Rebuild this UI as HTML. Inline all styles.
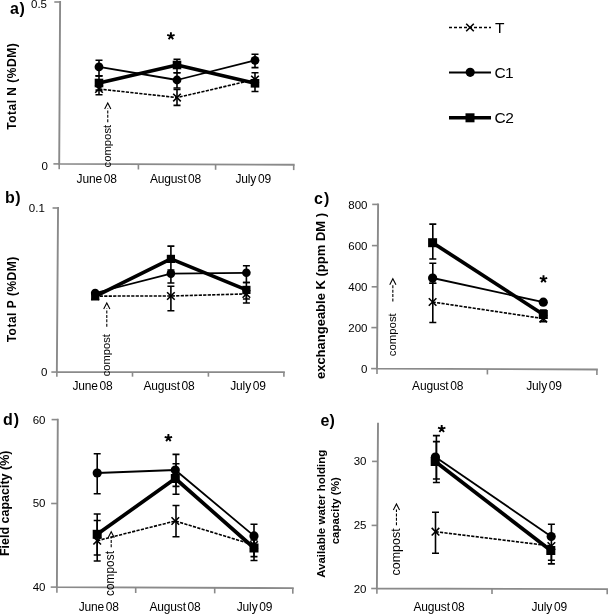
<!DOCTYPE html>
<html><head><meta charset="utf-8"><style>
html,body{margin:0;padding:0;background:#fff;width:608px;height:614px;overflow:hidden}
svg{display:block;filter:grayscale(1)}
text{font-family:"Liberation Sans",sans-serif;fill:#000}
</style></head><body>
<svg width="608" height="614" viewBox="0 0 608 614">
<rect width="608" height="614" fill="#fff"/>
<text x="10" y="13.8" font-size="16" font-weight="700" text-anchor="start" letter-spacing="0.5">a)</text>
<path d="M60.1 2L59.2 163.9L293.7 164.8" stroke="#8a8a8a" stroke-width="1.9" fill="none" stroke-linejoin="miter" stroke-linecap="square"/>
<path d="M54.30 2H60.10" stroke="#8a8a8a" stroke-width="1.61" fill="none"/>
<path d="M53.40 163.9H59.20" stroke="#8a8a8a" stroke-width="1.61" fill="none"/>
<path d="M59.2 163.90V169.20" stroke="#8a8a8a" stroke-width="1.61" fill="none"/>
<path d="M138.4 164.20V169.50" stroke="#8a8a8a" stroke-width="1.61" fill="none"/>
<path d="M215.6 164.50V169.80" stroke="#8a8a8a" stroke-width="1.61" fill="none"/>
<path d="M293.7 164.80V170.10" stroke="#8a8a8a" stroke-width="1.61" fill="none"/>
<text x="47" y="7.9" font-size="11.5" font-weight="400" text-anchor="end" >0.5</text>
<text x="48" y="169.8" font-size="11.5" font-weight="400" text-anchor="end" >0</text>
<text x="96.7" y="183" font-size="12" font-weight="400" text-anchor="middle" letter-spacing="-0.15" word-spacing="-1.5">June 08</text>
<text x="175.5" y="183" font-size="12" font-weight="400" text-anchor="middle" letter-spacing="-0.15" word-spacing="-1.5">August 08</text>
<text x="253.2" y="183" font-size="12" font-weight="400" text-anchor="middle" letter-spacing="-0.15" word-spacing="-1.5">July 09</text>
<text x="15.9" y="86.3" font-size="12" font-weight="700" text-anchor="middle" transform="rotate(-90 15.9 86.3)" letter-spacing="0.5">Total N (%DM)</text>
<text x="110.7" y="167.5" font-size="11.3" font-weight="400" text-anchor="start" transform="rotate(-90 110.7 167.5)" >compost</text>
<path d="M107.76 122.2V108.40" stroke="#000" stroke-width="1.1" stroke-dasharray="3 1.4" fill="none"/>
<path d="M104.66 108.90L107.76 102.9L110.86 108.90" stroke="#000" stroke-width="1.1" fill="none"/>
<path d="M99 60.2V75.9M95.5 60.2H102.5M95.5 75.9H102.5" stroke="#000" stroke-width="1.6" fill="none"/>
<path d="M99 75.9V90.1M95.5 75.9H102.5M95.5 90.1H102.5" stroke="#000" stroke-width="1.6" fill="none"/>
<path d="M99 83.2V94.8M95.5 83.2H102.5M95.5 94.8H102.5" stroke="#000" stroke-width="1.6" fill="none"/>
<path d="M177 59.2V72.7M173.5 59.2H180.5M173.5 72.7H180.5" stroke="#000" stroke-width="1.6" fill="none"/>
<path d="M177 72.7V88M173.5 72.7H180.5M173.5 88H180.5" stroke="#000" stroke-width="1.6" fill="none"/>
<path d="M177 89.5V105.4M173.5 89.5H180.5M173.5 105.4H180.5" stroke="#000" stroke-width="1.6" fill="none"/>
<path d="M255 54.3V67.6M251.5 54.3H258.5M251.5 67.6H258.5" stroke="#000" stroke-width="1.6" fill="none"/>
<path d="M255 72.8V91.5M251.5 72.8H258.5M251.5 91.5H258.5" stroke="#000" stroke-width="1.6" fill="none"/>
<path d="M99 89 L177 97.6 L255 79.5" stroke="#000" stroke-width="1.6" fill="none" stroke-linejoin="round" stroke-dasharray="3.2 1.3"/>
<path d="M99 66.9 L177 80 L255 60.3" stroke="#000" stroke-width="1.8" fill="none" stroke-linejoin="round"/>
<path d="M99 83 L177 65 L255 83.3" stroke="#000" stroke-width="3.7" fill="none" stroke-linejoin="round"/>
<path d="M95.2 85.2L102.8 92.8M95.2 92.8L102.8 85.2" stroke="#000" stroke-width="1.6" fill="none"/>
<path d="M173.2 93.8L180.8 101.39999999999999M173.2 101.39999999999999L180.8 93.8" stroke="#000" stroke-width="1.6" fill="none"/>
<path d="M251.2 75.7L258.8 83.3M251.2 83.3L258.8 75.7" stroke="#000" stroke-width="1.6" fill="none"/>
<circle cx="99" cy="66.9" r="4.4" fill="#000"/>
<circle cx="177" cy="80" r="4.4" fill="#000"/>
<circle cx="255" cy="60.3" r="4.4" fill="#000"/>
<rect x="94.7" y="78.7" width="8.6" height="8.6" fill="#000"/>
<rect x="172.7" y="60.7" width="8.6" height="8.6" fill="#000"/>
<rect x="250.7" y="79.0" width="8.6" height="8.6" fill="#000"/>
<path d="M170.9 36.1L170.90 32.20M170.9 36.1L174.61 34.89M170.9 36.1L173.19 39.26M170.9 36.1L168.61 39.26M170.9 36.1L167.19 34.89" stroke="#000" stroke-width="1.9" fill="none" stroke-linecap="butt"/>
<path d="M449 27.5H491" stroke="#000" stroke-width="1.5" stroke-dasharray="3 2" fill="none"/>
<path d="M466.2 23.7L473.8 31.3M466.2 31.3L473.8 23.7" stroke="#000" stroke-width="1.6" fill="none"/>
<text x="495" y="32.6" font-size="15.5" font-weight="400" text-anchor="start" >T</text>
<path d="M449 72.5H491" stroke="#000" stroke-width="1.8" fill="none"/>
<circle cx="470.2" cy="72.3" r="4.6" fill="#000"/>
<text x="494.5" y="77.6" font-size="15.5" font-weight="400" text-anchor="start" letter-spacing="-0.6">C1</text>
<path d="M449 117.8H491" stroke="#000" stroke-width="3.5" fill="none"/>
<rect x="465.5" y="113.3" width="9" height="9" fill="#000"/>
<text x="494.5" y="122.5" font-size="15.5" font-weight="400" text-anchor="start" letter-spacing="-0.4">C2</text>
<text x="5" y="203.2" font-size="16" font-weight="700" text-anchor="start" letter-spacing="0.6">b)</text>
<path d="M58.05 208L56.85 372.05L283.9 372.1" stroke="#8a8a8a" stroke-width="1.9" fill="none" stroke-linejoin="miter" stroke-linecap="square"/>
<path d="M52.55 208H58.05" stroke="#8a8a8a" stroke-width="1.61" fill="none"/>
<path d="M51.35 372.05H56.85" stroke="#8a8a8a" stroke-width="1.61" fill="none"/>
<path d="M56.85 372.05V376.65" stroke="#8a8a8a" stroke-width="1.61" fill="none"/>
<path d="M132.5 372.07V376.67" stroke="#8a8a8a" stroke-width="1.61" fill="none"/>
<path d="M208.4 372.08V376.68" stroke="#8a8a8a" stroke-width="1.61" fill="none"/>
<path d="M283.9 372.10V376.70" stroke="#8a8a8a" stroke-width="1.61" fill="none"/>
<text x="44.8" y="212" font-size="11.5" font-weight="400" text-anchor="end" >0.1</text>
<text x="47.3" y="375.6" font-size="11.5" font-weight="400" text-anchor="end" >0</text>
<text x="92.5" y="389.6" font-size="12" font-weight="400" text-anchor="middle" letter-spacing="-0.15" word-spacing="-1.5">June 08</text>
<text x="169" y="389.6" font-size="12" font-weight="400" text-anchor="middle" letter-spacing="-0.15" word-spacing="-1.5">August 08</text>
<text x="248" y="389.6" font-size="12" font-weight="400" text-anchor="middle" letter-spacing="-0.15" word-spacing="-1.5">July 09</text>
<text x="16.2" y="299.3" font-size="12" font-weight="700" text-anchor="middle" transform="rotate(-90 16.2 299.3)" letter-spacing="0.5">Total P (%DM)</text>
<text x="109.7" y="376.3" font-size="11.2" font-weight="400" text-anchor="start" transform="rotate(-90 109.7 376.3)" >compost</text>
<path d="M106.79 326.7V308.40" stroke="#000" stroke-width="1.1" stroke-dasharray="3 1.4" fill="none"/>
<path d="M103.69 308.90L106.79 302.9L109.89 308.90" stroke="#000" stroke-width="1.1" fill="none"/>
<path d="M170.9 246.1V271.7M167.4 246.1H174.4M167.4 271.7H174.4" stroke="#000" stroke-width="1.6" fill="none"/>
<path d="M170.9 270V283M167.4 270H174.4M167.4 283H174.4" stroke="#000" stroke-width="1.6" fill="none"/>
<path d="M170.9 286.3V310.7M167.4 286.3H174.4M167.4 310.7H174.4" stroke="#000" stroke-width="1.6" fill="none"/>
<path d="M246.4 265.7V282.5M242.9 265.7H249.9M242.9 282.5H249.9" stroke="#000" stroke-width="1.6" fill="none"/>
<path d="M246.4 282.5V299M242.9 282.5H249.9M242.9 299H249.9" stroke="#000" stroke-width="1.6" fill="none"/>
<path d="M246.4 290V303M242.9 290H249.9M242.9 303H249.9" stroke="#000" stroke-width="1.6" fill="none"/>
<path d="M95.2 296.1 L170.9 296 L246.4 293.9" stroke="#000" stroke-width="1.6" fill="none" stroke-linejoin="round" stroke-dasharray="3.2 1.3"/>
<path d="M95.2 293 L170.9 273.6 L246.4 272.8" stroke="#000" stroke-width="1.8" fill="none" stroke-linejoin="round"/>
<path d="M95.2 296.4 L170.9 258.9 L246.4 289.9" stroke="#000" stroke-width="3.7" fill="none" stroke-linejoin="round"/>
<path d="M91.4 292.3L99.0 299.90000000000003M91.4 299.90000000000003L99.0 292.3" stroke="#000" stroke-width="1.6" fill="none"/>
<path d="M167.1 292.2L174.70000000000002 299.8M167.1 299.8L174.70000000000002 292.2" stroke="#000" stroke-width="1.6" fill="none"/>
<path d="M242.6 290.09999999999997L250.20000000000002 297.7M242.6 297.7L250.20000000000002 290.09999999999997" stroke="#000" stroke-width="1.6" fill="none"/>
<circle cx="95.2" cy="293" r="4.3" fill="#000"/>
<circle cx="170.9" cy="273.6" r="4.3" fill="#000"/>
<circle cx="246.4" cy="272.8" r="4.3" fill="#000"/>
<rect x="91.10000000000001" y="292.29999999999995" width="8.2" height="8.2" fill="#000"/>
<rect x="166.8" y="254.79999999999998" width="8.2" height="8.2" fill="#000"/>
<rect x="242.3" y="285.79999999999995" width="8.2" height="8.2" fill="#000"/>
<text x="314" y="203.8" font-size="16" font-weight="700" text-anchor="start" letter-spacing="1">c)</text>
<path d="M378.1 204.4L377 368.6L596.9 369.5" stroke="#8a8a8a" stroke-width="1.9" fill="none" stroke-linejoin="miter" stroke-linecap="square"/>
<path d="M372.20 204.4H378.10" stroke="#8a8a8a" stroke-width="1.61" fill="none"/>
<path d="M371.92 245.6H377.82" stroke="#8a8a8a" stroke-width="1.61" fill="none"/>
<path d="M371.65 286.8H377.55" stroke="#8a8a8a" stroke-width="1.61" fill="none"/>
<path d="M371.37 327.6H377.27" stroke="#8a8a8a" stroke-width="1.61" fill="none"/>
<path d="M371.10 368.6H377.00" stroke="#8a8a8a" stroke-width="1.61" fill="none"/>
<path d="M377 368.60V374.00" stroke="#8a8a8a" stroke-width="1.61" fill="none"/>
<path d="M487.4 369.05V374.45" stroke="#8a8a8a" stroke-width="1.61" fill="none"/>
<path d="M596.9 369.50V374.90" stroke="#8a8a8a" stroke-width="1.61" fill="none"/>
<text x="367.5" y="208.5" font-size="11.5" font-weight="400" text-anchor="end" >800</text>
<text x="367.5" y="249.6" font-size="11.5" font-weight="400" text-anchor="end" >600</text>
<text x="367.5" y="290.8" font-size="11.5" font-weight="400" text-anchor="end" >400</text>
<text x="367.5" y="331.6" font-size="11.5" font-weight="400" text-anchor="end" >200</text>
<text x="367.5" y="373" font-size="11.5" font-weight="400" text-anchor="end" >0</text>
<text x="437.7" y="389.7" font-size="12" font-weight="400" text-anchor="middle" letter-spacing="-0.15" word-spacing="-1.5">August 08</text>
<text x="544" y="389.7" font-size="12" font-weight="400" text-anchor="middle" letter-spacing="-0.15" word-spacing="-1.5">July 09</text>
<text x="324.5" y="296" font-size="13" font-weight="700" text-anchor="middle" transform="rotate(-90 324.5 296)" >exchangeable K (ppm DM )</text>
<text x="395.8" y="356.3" font-size="11.4" font-weight="400" text-anchor="start" transform="rotate(-90 395.8 356.3)" >compost</text>
<path d="M392.84 301.5V284.30" stroke="#000" stroke-width="1.1" stroke-dasharray="3 1.4" fill="none"/>
<path d="M389.74 284.80L392.84 278.8L395.94 284.80" stroke="#000" stroke-width="1.1" fill="none"/>
<path d="M432.8 224.1V259M429.3 224.1H436.3M429.3 259H436.3" stroke="#000" stroke-width="1.6" fill="none"/>
<path d="M432.8 263.2V283.3M429.3 263.2H436.3M429.3 283.3H436.3" stroke="#000" stroke-width="1.6" fill="none"/>
<path d="M432.8 283.3V322.5M429.3 283.3H436.3M429.3 322.5H436.3" stroke="#000" stroke-width="1.6" fill="none"/>
<path d="M543.3 310V321.6M539.8 310H546.8M539.8 321.6H546.8" stroke="#000" stroke-width="1.6" fill="none"/>
<path d="M432.6 302 L543.3 318.6" stroke="#000" stroke-width="1.6" fill="none" stroke-linejoin="round" stroke-dasharray="3.2 1.3"/>
<path d="M432.6 278 L543.3 302.2" stroke="#000" stroke-width="1.8" fill="none" stroke-linejoin="round"/>
<path d="M432.6 242.7 L543.3 314.5" stroke="#000" stroke-width="3.7" fill="none" stroke-linejoin="round"/>
<path d="M428.8 298.2L436.40000000000003 305.8M428.8 305.8L436.40000000000003 298.2" stroke="#000" stroke-width="1.6" fill="none"/>
<path d="M539.5 314.8L547.0999999999999 322.40000000000003M539.5 322.40000000000003L547.0999999999999 314.8" stroke="#000" stroke-width="1.6" fill="none"/>
<circle cx="432.6" cy="278" r="4.6" fill="#000"/>
<circle cx="543.3" cy="302.2" r="4.6" fill="#000"/>
<rect x="428.1" y="238.2" width="9.0" height="9.0" fill="#000"/>
<rect x="538.8" y="310.0" width="9.0" height="9.0" fill="#000"/>
<path d="M543.5 279.1L543.50 275.20M543.5 279.1L547.21 277.89M543.5 279.1L545.79 282.26M543.5 279.1L541.21 282.26M543.5 279.1L539.79 277.89" stroke="#000" stroke-width="1.9" fill="none" stroke-linecap="butt"/>
<text x="3" y="425.3" font-size="16" font-weight="700" text-anchor="start" letter-spacing="1">d)</text>
<path d="M57.8 419.6L56.9 587.1L292.8 588.1" stroke="#8a8a8a" stroke-width="1.9" fill="none" stroke-linejoin="miter" stroke-linecap="square"/>
<path d="M51.60 419.6H57.80" stroke="#8a8a8a" stroke-width="1.61" fill="none"/>
<path d="M51.15 503.5H57.35" stroke="#8a8a8a" stroke-width="1.61" fill="none"/>
<path d="M50.70 587.1H56.90" stroke="#8a8a8a" stroke-width="1.61" fill="none"/>
<path d="M56.9 587.10V592.70" stroke="#8a8a8a" stroke-width="1.61" fill="none"/>
<path d="M135.7 587.43V593.03" stroke="#8a8a8a" stroke-width="1.61" fill="none"/>
<path d="M214.7 587.77V593.37" stroke="#8a8a8a" stroke-width="1.61" fill="none"/>
<path d="M292.8 588.10V593.70" stroke="#8a8a8a" stroke-width="1.61" fill="none"/>
<text x="45.5" y="423.8" font-size="11.5" font-weight="400" text-anchor="end" >60</text>
<text x="45.5" y="507.2" font-size="11.5" font-weight="400" text-anchor="end" >50</text>
<text x="45.5" y="591" font-size="11.5" font-weight="400" text-anchor="end" >40</text>
<text x="98.8" y="610.9" font-size="12" font-weight="400" text-anchor="middle" letter-spacing="-0.15" word-spacing="-1.5">June 08</text>
<text x="175" y="610.9" font-size="12" font-weight="400" text-anchor="middle" letter-spacing="-0.15" word-spacing="-1.5">August 08</text>
<text x="254.5" y="610.9" font-size="12" font-weight="400" text-anchor="middle" letter-spacing="-0.15" word-spacing="-1.5">July 09</text>
<text x="9" y="503.3" font-size="12.5" font-weight="700" text-anchor="middle" transform="rotate(-90 9 503.3)" >Field capacity (%)</text>
<text x="114.3" y="596" font-size="11.9" font-weight="400" text-anchor="start" transform="rotate(-90 114.3 596)" >compost</text>
<path d="M111.21 547.3V537.20" stroke="#000" stroke-width="1.1" stroke-dasharray="3 1.4" fill="none"/>
<path d="M108.11 537.70L111.21 531.7L114.31 537.70" stroke="#000" stroke-width="1.1" fill="none"/>
<path d="M97.2 453.8V493.7M93.7 453.8H100.7M93.7 493.7H100.7" stroke="#000" stroke-width="1.6" fill="none"/>
<path d="M97.2 514V555M93.7 514H100.7M93.7 555H100.7" stroke="#000" stroke-width="1.6" fill="none"/>
<path d="M97.2 520.5V561M93.7 520.5H100.7M93.7 561H100.7" stroke="#000" stroke-width="1.6" fill="none"/>
<path d="M176 454.4V486.4M172.5 454.4H179.5M172.5 486.4H179.5" stroke="#000" stroke-width="1.6" fill="none"/>
<path d="M176 463.7V494.3M172.5 463.7H179.5M172.5 494.3H179.5" stroke="#000" stroke-width="1.6" fill="none"/>
<path d="M176 505.5V536.7M172.5 505.5H179.5M172.5 536.7H179.5" stroke="#000" stroke-width="1.6" fill="none"/>
<path d="M254 524.3V547.5M250.5 524.3H257.5M250.5 547.5H257.5" stroke="#000" stroke-width="1.6" fill="none"/>
<path d="M254 540V556.6M250.5 540H257.5M250.5 556.6H257.5" stroke="#000" stroke-width="1.6" fill="none"/>
<path d="M254 535V560.5M250.5 535H257.5M250.5 560.5H257.5" stroke="#000" stroke-width="1.6" fill="none"/>
<path d="M97.2 540.7 L175.3 521 L254 545" stroke="#000" stroke-width="1.6" fill="none" stroke-linejoin="round" stroke-dasharray="3.2 1.3"/>
<path d="M97.2 473 L175.3 470 L254 535.9" stroke="#000" stroke-width="1.8" fill="none" stroke-linejoin="round"/>
<path d="M97.2 534.3 L175.3 478.5 L254 548" stroke="#000" stroke-width="3.7" fill="none" stroke-linejoin="round"/>
<path d="M93.4 536.9000000000001L101.0 544.5M93.4 544.5L101.0 536.9000000000001" stroke="#000" stroke-width="1.6" fill="none"/>
<path d="M171.5 517.2L179.10000000000002 524.8M171.5 524.8L179.10000000000002 517.2" stroke="#000" stroke-width="1.6" fill="none"/>
<path d="M250.2 541.2L257.8 548.8M250.2 548.8L257.8 541.2" stroke="#000" stroke-width="1.6" fill="none"/>
<circle cx="97.2" cy="473" r="4.6" fill="#000"/>
<circle cx="175.3" cy="470" r="4.6" fill="#000"/>
<circle cx="254" cy="535.9" r="4.6" fill="#000"/>
<rect x="92.7" y="529.8" width="9.0" height="9.0" fill="#000"/>
<rect x="170.8" y="474.0" width="9.0" height="9.0" fill="#000"/>
<rect x="249.5" y="543.5" width="9.0" height="9.0" fill="#000"/>
<path d="M168.4 438L168.40 434.10M168.4 438L172.11 436.79M168.4 438L170.69 441.16M168.4 438L166.11 441.16M168.4 438L164.69 436.79" stroke="#000" stroke-width="1.9" fill="none" stroke-linecap="butt"/>
<text x="320.5" y="425.6" font-size="16" font-weight="700" text-anchor="start" >e)</text>
<path d="M378 423.8L376.9 588.5L607.2 589.1" stroke="#8a8a8a" stroke-width="1.9" fill="none" stroke-linejoin="miter" stroke-linecap="square"/>
<path d="M372.05 461.4H377.75" stroke="#8a8a8a" stroke-width="1.61" fill="none"/>
<path d="M371.62 525.4H377.32" stroke="#8a8a8a" stroke-width="1.61" fill="none"/>
<path d="M371.20 588.5H376.90" stroke="#8a8a8a" stroke-width="1.61" fill="none"/>
<path d="M376.9 588.50V593.70" stroke="#8a8a8a" stroke-width="1.61" fill="none"/>
<path d="M492 588.80V594.00" stroke="#8a8a8a" stroke-width="1.61" fill="none"/>
<path d="M607.2 589.10V594.30" stroke="#8a8a8a" stroke-width="1.61" fill="none"/>
<text x="366.5" y="465.4" font-size="11.5" font-weight="400" text-anchor="end" >30</text>
<text x="366.5" y="529.4" font-size="11.5" font-weight="400" text-anchor="end" >25</text>
<text x="366.5" y="592.6" font-size="11.5" font-weight="400" text-anchor="end" >20</text>
<text x="439" y="610.6" font-size="12" font-weight="400" text-anchor="middle" letter-spacing="-0.15" word-spacing="-1.5">August 08</text>
<text x="549.2" y="610.6" font-size="12" font-weight="400" text-anchor="middle" letter-spacing="-0.15" word-spacing="-1.5">July 09</text>
<text x="325.2" y="513.8" font-size="11.5" font-weight="700" text-anchor="middle" transform="rotate(-90 325.2 513.8)" >Available water holding</text>
<text x="339.2" y="510.8" font-size="11.5" font-weight="700" text-anchor="middle" transform="rotate(-90 339.2 510.8)" >capacity (%)</text>
<text x="399.7" y="575.5" font-size="12.5" font-weight="400" text-anchor="start" transform="rotate(-90 399.7 575.5)" >compost</text>
<path d="M396.45 525.2V509.40" stroke="#000" stroke-width="1.1" stroke-dasharray="3 1.4" fill="none"/>
<path d="M393.35 509.90L396.45 503.9L399.55 509.90" stroke="#000" stroke-width="1.1" fill="none"/>
<path d="M436.4 435.6V479M432.9 435.6H439.9M432.9 479H439.9" stroke="#000" stroke-width="1.6" fill="none"/>
<path d="M436.4 441.6V482.5M432.9 441.6H439.9M432.9 482.5H439.9" stroke="#000" stroke-width="1.6" fill="none"/>
<path d="M435.5 512.3V553.2M432.0 512.3H439.0M432.0 553.2H439.0" stroke="#000" stroke-width="1.6" fill="none"/>
<path d="M551.4 524.2V560.2M547.9 524.2H554.9M547.9 560.2H554.9" stroke="#000" stroke-width="1.6" fill="none"/>
<path d="M551.4 548V563.9M547.9 548H554.9M547.9 563.9H554.9" stroke="#000" stroke-width="1.6" fill="none"/>
<path d="M435.5 531.7 L551.4 546" stroke="#000" stroke-width="1.6" fill="none" stroke-linejoin="round" stroke-dasharray="3.2 1.3"/>
<path d="M435.4 457 L551.2 536.5" stroke="#000" stroke-width="1.8" fill="none" stroke-linejoin="round"/>
<path d="M435.2 461.5 L550.8 550.5" stroke="#000" stroke-width="3.7" fill="none" stroke-linejoin="round"/>
<path d="M431.7 527.9000000000001L439.3 535.5M431.7 535.5L439.3 527.9000000000001" stroke="#000" stroke-width="1.6" fill="none"/>
<path d="M547.6 542.2L555.1999999999999 549.8M547.6 549.8L555.1999999999999 542.2" stroke="#000" stroke-width="1.6" fill="none"/>
<circle cx="435.4" cy="457" r="4.6" fill="#000"/>
<circle cx="551.2" cy="536.5" r="4.6" fill="#000"/>
<rect x="430.7" y="457.0" width="9.0" height="9.0" fill="#000"/>
<rect x="546.3" y="546.0" width="9.0" height="9.0" fill="#000"/>
<path d="M441.7 428.9L441.70 425.00M441.7 428.9L445.41 427.69M441.7 428.9L443.99 432.06M441.7 428.9L439.41 432.06M441.7 428.9L437.99 427.69" stroke="#000" stroke-width="1.9" fill="none" stroke-linecap="butt"/>
</svg>
</body></html>
